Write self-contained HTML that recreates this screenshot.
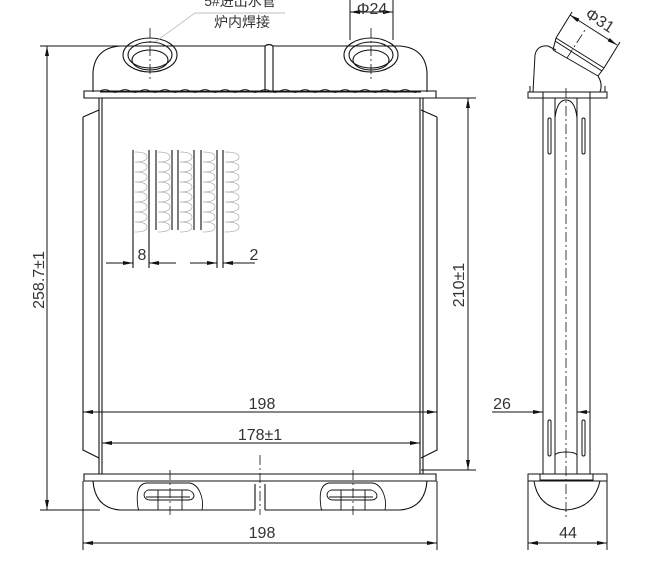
<!DOCTYPE html>
<html><head><meta charset="utf-8"><style>
html,body{margin:0;padding:0;background:#fff;}
svg{display:block;}
text{font-family:"Liberation Sans","Noto Sans CJK SC",sans-serif;fill:#333;}
</style></head><body>
<svg width="656" height="566" viewBox="0 0 656 566" xmlns="http://www.w3.org/2000/svg">
<defs>
<marker id="a" viewBox="0 0 10 4" refX="10" refY="2" markerWidth="10" markerHeight="4" orient="auto-start-reverse" markerUnits="userSpaceOnUse"><path d="M0,0L10,2L0,4z" fill="#111"/></marker>
</defs>
<g stroke="#111" stroke-width="1.1" fill="none">
<!-- top tank -->
<path d="M93,92 L93,72 Q95,48 120,46 L265,46 M273,46 L400,46 Q425,48 427,72 L427,92"/>
<path d="M265,46 L265,92 M273,46 L273,92 M265,46 Q269,43 273,46"/>
<path d="M84,91 L436,91 L436,98 L84,98 Z"/>
<path d="M100,92 L421,92" />
<path d="M100,91 q5,-3 10,0 t10,0 t10,0 t10,0 t10,0 t10,0 t10,0 t10,0 t10,0 t10,0 t10,0 t10,0 t10,0 t10,0 t10,0 t10,0 t10,0 t10,0 t10,0 t10,0 t10,0 t10,0 t10,0 t10,0 t10,0 t10,0 t10,0 t10,0 t10,0 t10,0 t10,0 t10,0" stroke-width="0.8"/>
<!-- pipes -->
<ellipse cx="150" cy="55" rx="27" ry="17"/><ellipse cx="150" cy="55" rx="22" ry="13"/><ellipse cx="150" cy="60" rx="18" ry="10"/>
<ellipse cx="371" cy="55" rx="27" ry="17"/><ellipse cx="371" cy="55" rx="22" ry="13"/><ellipse cx="371" cy="60" rx="18" ry="10"/>
<!-- core -->
<path d="M99,98 L99,474 M102,98 L102,474 M420,98 L420,474 M423,98 L423,474"/>
<path d="M83,117 L83,450 L99,458 M83,117 L99,110 M437,117 L437,450 L421,458 M437,117 L421,110"/>
<!-- bottom tank -->
<path d="M84,474 L436,474 L436,481 L84,481 Z"/>
<path d="M93,481 Q95,508 120,510 L255,510 M265,510 L400,510 Q425,508 427,481"/>
<path d="M255,484 L255,510 M265,484 L265,510"/>
<path d="M146,483 C135,485 137,500 138,508 L139,510 L202,510 C204,500 200,485 190,483 Z M148,490 C142,492 143,500 150,500 L188,500 C196,500 196,492 188,490 Z M146,497 L190,497 M158,490 L158,510 M182,490 L182,510" stroke-width="0.9"/>
<path d="M329,483 C318,485 320,500 321,508 L322,510 L385,510 C387,500 383,485 373,483 Z M331,490 C325,492 326,500 333,500 L371,500 C379,500 379,492 371,490 Z M329,497 L373,497 M341,490 L341,510 M365,490 L365,510" stroke-width="0.9"/>
<!-- tubes -->
<path d="M133,150 L133,268 M149,150 L149,268 M156,150 L156,230 M172,150 L172,230 M178,150 L178,230 M194,150 L194,230 M201,150 L201,230 M217,150 L217,268 M223,150 L223,268"/>
</g>
<!-- fin zigzags -->
<g stroke="#aaa" stroke-width="0.7" fill="none">
<path d="M135,152 q12,0 12,5 q0,5 -12,5 q12,0 12,5 q0,5 -12,5 q12,0 12,5 q0,5 -12,5 q12,0 12,5 q0,5 -12,5 q12,0 12,5 q0,5 -12,5 q12,0 12,5 q0,5 -12,5 q12,0 12,5 q0,5 -12,5 q12,0 12,5 q0,5 -12,5"/>
<path d="M158,152 q12,0 12,5 q0,5 -12,5 q12,0 12,5 q0,5 -12,5 q12,0 12,5 q0,5 -12,5 q12,0 12,5 q0,5 -12,5 q12,0 12,5 q0,5 -12,5 q12,0 12,5 q0,5 -12,5 q12,0 12,5 q0,5 -12,5 q12,0 12,5 q0,5 -12,5"/>
<path d="M180,152 q12,0 12,5 q0,5 -12,5 q12,0 12,5 q0,5 -12,5 q12,0 12,5 q0,5 -12,5 q12,0 12,5 q0,5 -12,5 q12,0 12,5 q0,5 -12,5 q12,0 12,5 q0,5 -12,5 q12,0 12,5 q0,5 -12,5 q12,0 12,5 q0,5 -12,5"/>
<path d="M203,152 q12,0 12,5 q0,5 -12,5 q12,0 12,5 q0,5 -12,5 q12,0 12,5 q0,5 -12,5 q12,0 12,5 q0,5 -12,5 q12,0 12,5 q0,5 -12,5 q12,0 12,5 q0,5 -12,5 q12,0 12,5 q0,5 -12,5 q12,0 12,5 q0,5 -12,5"/>
<path d="M225,152 q14,0 14,5 q0,5 -14,5 q14,0 14,5 q0,5 -14,5 q14,0 14,5 q0,5 -14,5 q14,0 14,5 q0,5 -14,5 q14,0 14,5 q0,5 -14,5 q14,0 14,5 q0,5 -14,5 q14,0 14,5 q0,5 -14,5 q14,0 14,5 q0,5 -14,5"/>
<path d="M195,13 L155,42 M195,13 L285,13"/>
</g>
<!-- centerlines -->
<g stroke="#111" stroke-width="0.8" fill="none" stroke-dasharray="10,3,2,3">
<path d="M150,28 L150,82 M371,28 L371,82 M260,455 L260,515 M170,470 L170,515 M353,470 L353,515 M566,88 L566,520 M567,58 L585,30"/>
</g>
<!-- dimensions -->
<g stroke="#111" stroke-width="1" fill="none">
<path d="M40,46 L120,46 M40,510 L100,510 M421,98 L476,98 M421,470 L476,470"/>
<path d="M47,46 L47,510" marker-start="url(#a)" marker-end="url(#a)"/>
<path d="M468,98 L468,470" marker-start="url(#a)" marker-end="url(#a)"/>
<path d="M83,412 L437,412" marker-start="url(#a)" marker-end="url(#a)"/>
<path d="M102,443 L420,443" marker-start="url(#a)" marker-end="url(#a)"/>
<path d="M83,481 L83,550 M437,481 L437,550"/>
<path d="M83,543 L437,543" marker-start="url(#a)" marker-end="url(#a)"/>
<path d="M350,0 L350,40 M393,0 L393,40"/>
<path d="M350,12 L393,12" marker-start="url(#a)" marker-end="url(#a)"/>
<path d="M106,263 L133,263" marker-end="url(#a)"/><path d="M149,263 L176,263" marker-start="url(#a)"/>
<path d="M190,263 L217,263" marker-end="url(#a)"/><path d="M223,263 L255,263" marker-start="url(#a)"/>
<!-- side view -->
<path d="M528,92 L607,92 L607,98 L528,98 Z M530,86 L530,92 M605,86 L605,92"/>
<path d="M533,92 L535,55 Q537,45 548,46 L556,50"/>
<path d="M556,38 L604,68 M555,41 L602,71 M553,50 L598,76 M556,38 L553,50 M604,68 L598,76"/>
<path d="M598,76 Q603,84 600,92"/>
<path d="M543,98 L543,474 M590,98 L590,474 M555,98 L555,474 M577,98 L577,474"/>
<path d="M543,92 L543,98 M590,92 L590,98"/>
<rect x="548" y="118" width="3" height="36" rx="1.5"/><rect x="582" y="118" width="3" height="36" rx="1.5"/>
<rect x="548" y="420" width="3" height="36" rx="1.5"/><rect x="582" y="420" width="3" height="36" rx="1.5"/>
<path d="M555,118 Q557,100 566,100 Q575,100 577,118"/>
<path d="M555,455 Q557,452 566,452 Q575,452 577,455"/>
<path d="M528,474 L607,474 L607,481 L528,481 Z M540,474 L540,480 L593,480 L593,474"/>
<path d="M534,481 Q538,508 566,510 Q594,508 600,481"/>
<path d="M528,481 L528,550 M607,481 L607,550"/>
<path d="M528,543 L607,543" marker-start="url(#a)" marker-end="url(#a)"/>
<path d="M492,412 L543,412" marker-end="url(#a)"/><path d="M577,412 L590,412" marker-start="url(#a)"/>
<path d="M556,38 L572,12 M604,68 L620,42"/>
<path d="M570,15 L617,45" marker-start="url(#a)" marker-end="url(#a)"/>
</g>
<g font-size="16" text-anchor="middle">
<text x="262" y="409">198</text>
<text x="260" y="440">178±1</text>
<text x="262" y="538">198</text>
<text x="372" y="14">Φ24</text>
<text x="142" y="260">8</text>
<text x="254" y="260">2</text>
<text x="502" y="409">26</text>
<text x="568" y="538">44</text>
<text transform="translate(44,280) rotate(-90)">258.7±1</text>
<text transform="translate(464,285) rotate(-90)">210±1</text>
<text transform="translate(597,25) rotate(33)">Φ31</text>
<text x="240" y="6" font-size="14">5#进出水管</text>
<text x="242" y="27" font-size="14">炉内焊接</text>
</g>
</svg>
</body></html>
